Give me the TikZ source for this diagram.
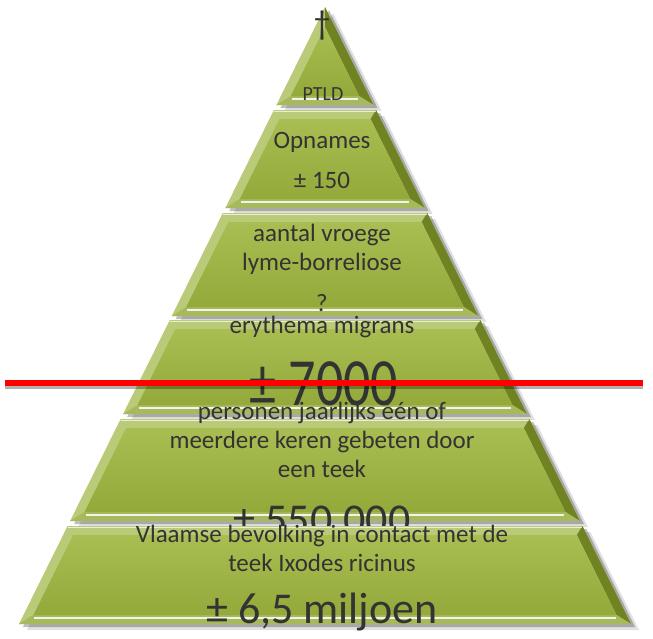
\documentclass[tikz,border=0pt]{standalone}
\usepackage{fontspec}
\setmainfont{Carlito}
\usepackage{graphicx}

\definecolor{facetop}{HTML}{A9BE52}
\definecolor{facebot}{HTML}{93A93A}
\definecolor{rimlight}{HTML}{B9CA78}
\definecolor{rimmid}{HTML}{A6B95C}
\definecolor{rimdark}{HTML}{6F8322}
\definecolor{ink}{HTML}{333333}

\tikzset{
  lbl/.style={text=ink, font=\fontsize{25}{29}\selectfont, align=center, inner sep=0pt},
  big/.style={text=ink, font=\fontsize{44}{48}\selectfont, inner sep=0pt},
  hilite/.style={white, opacity=0.85, line width=1.6pt},
}

% one slice of the pyramid: #1 top y, #2 bottom y
\newcommand{\tier}[2]{%
  \pgfmathsetmacro{\ptl}{325-0.496*(#1-7)}
  \pgfmathsetmacro{\ptr}{325+0.496*(#1-7)}
  \pgfmathsetmacro{\pbl}{325-0.496*(#2-7)}
  \pgfmathsetmacro{\pbr}{325+0.496*(#2-7)}
  \pgfmathsetmacro{\qt}{max(#1+9,27)}
  \pgfmathsetmacro{\qb}{#2-9}
  \pgfmathsetmacro{\qtl}{325-max(0.496*(\qt-7)-10,0)}
  \pgfmathsetmacro{\qtr}{325+max(0.496*(\qt-7)-10,0)}
  \pgfmathsetmacro{\qbl}{325-0.496*(\qb-7)+10}
  \pgfmathsetmacro{\qbr}{325+0.496*(\qb-7)-10}
  \fill[black,opacity=0.12] (\ptl+8,#1+6) -- (\ptr+8,#1+6) -- (\pbr+8,#2+6) -- (\pbl+8,#2+6) -- cycle;
  \fill[black,opacity=0.25] (\ptl+4,#1+3) -- (\ptr+4,#1+3) -- (\pbr+4,#2+3) -- (\pbl+4,#2+3) -- cycle;
  \fill[rimlight] (\ptl,#1) -- (\ptr,#1) -- (\pbr,#2) -- (\pbl,#2) -- cycle;
  \fill[rimdark] (\ptr,#1) -- (\pbr,#2) -- (\qbr,\qb) -- (\qtr,\qt) -- cycle;
  \fill[rimmid] (\pbl,#2) -- (\pbr,#2) -- (\qbr,\qb) -- (\qbl,\qb) -- cycle;
  \shade[top color=facetop,bottom color=facebot] (\qtl,\qt) -- (\qtr,\qt) -- (\qbr,\qb) -- (\qbl,\qb) -- cycle;
  \draw[hilite] (\qbl+1,\qb+3) -- (\qbr-1,\qb+3);
  \draw[white,opacity=0.7,line width=1pt] (\ptl,#1+1) -- (\ptr,#1+1);
}

\begin{document}
\begin{tikzpicture}[x=1pt,y=-1pt]
\useasboundingbox (0,0) rectangle (653,638);

\tier{7}{105}
\node[lbl,font=\fontsize{34}{34}\selectfont] (dag) at (322,26) {†};
\node[lbl,font=\fontsize{20}{22}\selectfont] (ptld) at (323,94) {PTLD};

\tier{110}{208}
\node[lbl] (opn) at (322,142) {Opnames};
\node[lbl] (opnN) at (322,180) {± 150};

\tier{213}{316}
\node[lbl] (vroeg) at (322,249) {aantal vroege\\lyme-borreliose};
\node[lbl] (vroegN) at (322,303) {?};

\tier{320}{414}
\node[lbl] (em) at (322,327) {erythema migrans};
\node[big,font=\fontsize{54}{58}\selectfont] (emN) at (324,384) {\scalebox{1}[1.25]{± 7000}};

\tier{419}{521}
\node[lbl] (beet) at (322,440) {personen jaarlijks één of\\meerdere keren gebeten door\\een teek};
\node[big] (beetN) at (322,520) {± 550.000};

\tier{526}{624}
\node[lbl] (teek) at (322,548) {Vlaamse bevolking in contact met de\\teek Ixodes ricinus};
\node[big] (teekN) at (322,612) {± 6,5 miljoen};

\coordinate (redL) at (5,383);
\coordinate (redR) at (643,383);
\draw[black,opacity=0.3,line width=6pt] ([yshift=-3pt]redL) -- ([yshift=-3pt]redR);
\draw[red,line width=6pt] (redL) -- (redR);
\end{tikzpicture}
\end{document}
